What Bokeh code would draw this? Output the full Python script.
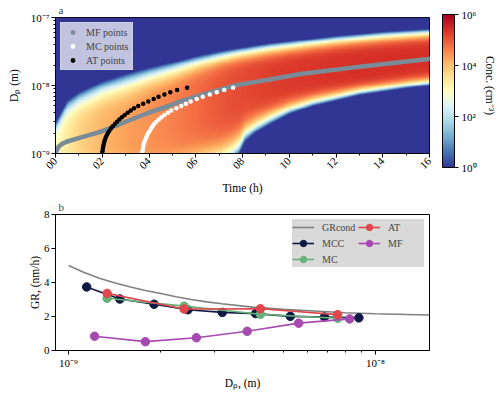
import math
import numpy as np
from bokeh.plotting import figure
from bokeh.models import (LinearColorMapper, FixedTicker, Legend, LegendItem, ColorBar,
                          LinearAxis, Range1d)
from bokeh.layouts import column
from bokeh.embed import file_html
from bokeh.resources import INLINE

FONT = "Liberation Serif"

# ---------------- data: panel a ----------------
# MF (mode fitting) trajectory, time (h) and diameter (m)
mf_time = [0.0, 0.03, 0.14, 0.29, 0.5, 1.21, 1.93, 2.64, 3.35, 4.06, 4.78, 5.35,
           6.35, 7.77, 9.2, 10.48, 13.12, 15.97, 16.0]
mf_dp = [1.00e-9, 1.08e-9, 1.27e-9, 1.39e-9, 1.50e-9, 1.77e-9, 2.09e-9, 2.61e-9,
         3.27e-9, 4.06e-9, 4.91e-9, 5.85e-9, 7.46e-9, 1.02e-8, 1.23e-8, 1.48e-8,
         1.91e-8, 2.46e-8, 2.48e-8]

# diameter bins (nm) used by the MC and AT methods
dp_bins_nm = [1.00, 1.08, 1.17, 1.26, 1.36, 1.47, 1.58, 1.71, 1.85, 2.00,
              2.15, 2.33, 2.51, 2.71, 2.93, 3.16, 3.41, 3.69, 3.98, 4.30,
              4.64, 5.01, 5.41, 5.84, 6.31, 6.81, 7.36, 7.94, 8.58, 9.26]
# appearance times (h) per bin
at_time = [2.00, 2.01, 2.025, 2.04, 2.06, 2.085, 2.11, 2.145, 2.19, 2.24,
           2.30, 2.37, 2.45, 2.54, 2.63, 2.73, 2.84, 2.96, 3.09, 3.22,
           3.36, 3.54, 3.75, 3.97, 4.20, 4.41, 4.66, 4.91, 5.20, 5.63]
mc_time = [3.71, 3.72, 3.74, 3.75, 3.77, 3.80, 3.84, 3.88, 3.92, 3.97,
           4.03, 4.09, 4.15, 4.22, 4.31, 4.42, 4.53, 4.66, 4.81, 4.95,
           5.17, 5.38, 5.58, 5.78, 6.04, 6.30, 6.60, 6.90, 7.22, 7.60]

# concentration field (log10 cm^-3) read along time: ridge, peak level, band edges (log10 m)
hm_time = [0, 0.5, 1, 2, 3, 4, 5, 6, 7, 7.5, 7.85, 8.1, 8.6, 9.2, 10, 11, 12, 13, 14, 15, 16]
hm_ridge = [-9.0, -8.95, -8.88, -8.8, -8.75, -8.55, -8.4, -8.25, -8.1, -8.04, -8.0,
            -7.975, -7.95, -7.91, -7.855, -7.81, -7.765, -7.725, -7.685, -7.645, -7.605]
hm_peak = [3.0, 3.4, 3.75, 4.1, 4.3, 4.45, 4.6, 4.8, 5.0, 5.08, 5.12,
           5.15, 5.2, 5.25, 5.3, 5.35, 5.38, 5.4, 5.4, 5.4, 5.4]
hm_upper = [-8.55, -8.22, -8.1, -7.94, -7.83, -7.74, -7.66, -7.57, -7.5, -7.47, -7.45,
            -7.44, -7.41, -7.38, -7.35, -7.31, -7.27, -7.24, -7.21, -7.19, -7.17]
hm_lower = [-9.5, -9.04, -9.10, -9.22, -9.36, -9.51, -9.44, -9.32, -9.22, -9.12, -9.0,
            -8.82, -8.68, -8.56, -8.42, -8.3, -8.22, -8.14, -8.09, -8.04, -8.0]

time_ticks = [0, 2, 4, 6, 8, 10, 12, 14, 16]
time_tick_labels = ["00", "02", "04", "06", "08", "10", "12", "14", "16"]
dp_ticks = [1e-9, 1e-8, 1e-7]
dp_tick_labels = ["10⁻⁹", "10⁻⁸", "10⁻⁷"]
conc_ticks_log = [0, 2, 4, 6]
conc_tick_labels = ["10⁰", "10²", "10⁴", "10⁶"]

# ---------------- data: panel b ----------------
grc_dp = [1.0e-9, 1.12e-9, 1.26e-9, 1.41e-9, 1.58e-9, 1.78e-9, 2.0e-9, 2.24e-9, 2.51e-9,
          2.82e-9, 3.16e-9, 3.98e-9, 5.01e-9, 6.31e-9, 7.94e-9, 1.0e-8, 1.26e-8, 1.5e-8]
grc_gr = [5.0, 4.6, 4.25, 3.98, 3.75, 3.53, 3.35, 3.16, 3.0,
          2.86, 2.75, 2.55, 2.42, 2.32, 2.22, 2.16, 2.12, 2.09]
mcc_dp = [1.146e-9, 1.47e-9, 1.90e-9, 2.45e-9, 3.17e-9, 4.07e-9, 5.28e-9, 6.82e-9, 8.83e-9]
mcc_gr = [3.74, 3.03, 2.72, 2.40, 2.24, 2.17, 2.01, 1.97, 1.92]
mc_dp = [1.336e-9, 2.38e-9, 4.22e-9, 7.53e-9]
mc_gr = [3.07, 2.61, 2.13, 1.90]
at_dp = [1.336e-9, 2.38e-9, 4.22e-9, 7.53e-9]
at_gr = [3.36, 2.44, 2.46, 2.11]
mfb_dp = [1.216e-9, 1.78e-9, 2.61e-9, 3.82e-9, 5.62e-9, 8.24e-9]
mfb_gr = [0.84, 0.52, 0.75, 1.13, 1.61, 1.86]
gr_ticks = [0, 2, 4, 6, 8]
dpb_ticks = [1e-9, 1e-8]
dpb_tick_labels = ["10⁻⁹", "10⁻⁸"]

# ---------------- palette (RdYlBu reversed) ----------------
anchors = ['#313695', '#4575b4', '#74add1', '#abd9e9', '#e0f3f8', '#ffffbf',
           '#fee090', '#fdae61', '#f46d43', '#d73027', '#a50026']
rgb = np.array([[int(h[i:i + 2], 16) for i in (1, 3, 5)] for h in anchors], float)
pos = np.linspace(0, 1, len(anchors))
q = np.linspace(0, 1, 256)
pal = ["#%02x%02x%02x" % tuple(int(round(np.interp(v, pos, rgb[:, k]))) for k in range(3)) for v in q]
mapper = LinearColorMapper(palette=pal, low=0, high=6)

# ---------------- build field ----------------
nx, ny = 748, 278
tc = (np.arange(nx) + 0.5) / nx * 16
yc = -9 + (np.arange(ny) + 0.5) / ny * 2
c = np.interp(tc, hm_time, hm_ridge)[None, :]
P = np.interp(tc, hm_time, hm_peak)[None, :]
U = np.interp(tc, hm_time, hm_upper)[None, :]
L = np.interp(tc, hm_time, hm_lower)[None, :]
X = yc[:, None]
u = np.where(X >= c, (X - c) / (U - c), (c - X) / (c - L))
lvl = P * (1 - np.clip(u, 0, None) ** 5)
lvl = np.clip(lvl, -1, 6)


def style_axis(ax, size="11px"):
    ax.axis_line_color = "black"
    ax.major_tick_line_color = "black"
    ax.minor_tick_line_color = "black"
    ax.major_tick_in = 0
    ax.major_tick_out = 4
    ax.minor_tick_in = 0
    ax.minor_tick_out = 2
    ax.major_label_text_font = FONT
    ax.major_label_text_font_size = size
    ax.major_label_text_color = "black"
    ax.axis_label_text_font = FONT
    ax.axis_label_text_font_size = "11.5px"
    ax.axis_label_text_font_style = "normal"
    ax.axis_label_text_color = "black"
    ax.major_label_standoff = 2
    ax.axis_label_standoff = 3


def style_title(fig):
    fig.title.text_font = FONT
    fig.title.text_font_size = "11px"
    fig.title.text_font_style = "normal"
    fig.title.align = "left"
    fig.title.offset = 3
    fig.title.standoff = 3


# ---------------- panel a ----------------
p1 = figure(width=500, height=197, x_range=(0, 16), y_range=(1e-9, 1e-7), y_axis_type="log",
            output_backend="svg", toolbar_location=None, title="a",
            min_border_left=55, min_border_right=71, min_border_top=15, min_border_bottom=43)
style_title(p1)
p1.image(image=[lvl], x=0, y=1e-9, dw=16, dh=1e-7 - 1e-9, color_mapper=mapper)
p1.grid.visible = False
p1.outline_line_color = "black"
p1.outline_line_alpha = 1
style_axis(p1.xaxis[0])
style_axis(p1.yaxis[0])
p1.xaxis.ticker = FixedTicker(ticks=time_ticks, minor_ticks=[1, 3, 5, 7, 9, 11, 13, 15])
p1.xaxis.major_label_overrides = dict(zip(time_ticks, time_tick_labels))
p1.xaxis.major_label_orientation = math.pi / 4
p1.xaxis.axis_label = "Time (h)"
p1.xaxis.axis_label_standoff = 7
p1.yaxis.ticker = FixedTicker(ticks=dp_ticks,
                              minor_ticks=[k * 1e-9 for k in range(2, 10)] + [k * 1e-8 for k in range(2, 10)])
p1.yaxis.major_label_overrides = dict(zip(dp_ticks, dp_tick_labels))
p1.yaxis.axis_label = "Dₚ (m)"
p1.yaxis.axis_label_standoff = 8

MF_GRAY = "#7a8c98"
r_mf_line = p1.line(mf_time, mf_dp, line_width=4.5, line_color=MF_GRAY)
r_mf = p1.scatter(mf_time, mf_dp, size=4.5, fill_color=MF_GRAY, line_color=None)
mc_dp_m = [d * 1e-9 for d in dp_bins_nm]
r_mc = p1.scatter(mc_time, mc_dp_m, size=4.5, fill_color="white", line_color=None)
r_at = p1.scatter(at_time, mc_dp_m, size=4.5, fill_color="black", line_color=None)

leg1 = Legend(items=[LegendItem(label="MF points", renderers=[r_mf]),
                     LegendItem(label="MC points", renderers=[r_mc]),
                     LegendItem(label="AT points", renderers=[r_at])],
              location="top_left")
leg1.margin = 5
leg1.padding = 3
leg1.spacing = 2
leg1.glyph_width = 17
leg1.glyph_height = 12
leg1.label_height = 12
leg1.label_standoff = 5
leg1.label_text_font = FONT
leg1.label_text_font_size = "10px"
leg1.background_fill_color = "white"
leg1.background_fill_alpha = 0.7
leg1.border_line_color = "#d0d2e6"
leg1.border_line_alpha = 0.8
p1.add_layout(leg1)

# colour bar (right panel)
cbar = ColorBar(color_mapper=mapper, width=12, height=153, location=(13, -14),
                padding=0, margin=0,
                ticker=FixedTicker(ticks=conc_ticks_log, minor_ticks=[]),
                major_label_overrides=dict(zip(conc_ticks_log, conc_tick_labels)),
                bar_line_color="black", bar_line_width=1,
                major_tick_line_color="black", major_tick_in=0, major_tick_out=4,
                minor_tick_line_color=None,
                major_label_text_font=FONT, major_label_text_font_size="11px",
                major_label_text_color="black", label_standoff=3,
                background_fill_alpha=0, border_line_color=None)
p1.add_layout(cbar, "right")
p1.extra_y_ranges = {"cb": Range1d(0, 1)}
cb_ax = LinearAxis(y_range_name="cb", ticker=FixedTicker(ticks=[]), axis_label="Conc. (cm⁻³)")
style_axis(cb_ax)
cb_ax.axis_line_color = None
cb_ax.major_tick_line_color = None
cb_ax.minor_tick_line_color = None
cb_ax.axis_label_standoff = 4
p1.add_layout(cb_ax, "right")

# ---------------- panel b ----------------
p2 = figure(width=500, height=196, x_range=(9.07e-10, 1.5e-8), y_range=(0, 8), x_axis_type="log",
            output_backend="svg", toolbar_location=None, title="b",
            min_border_left=55, min_border_right=71, min_border_top=14, min_border_bottom=43)
style_title(p2)
p2.grid.visible = False
p2.outline_line_color = "black"
style_axis(p2.xaxis[0])
style_axis(p2.yaxis[0])
p2.xaxis.ticker = FixedTicker(ticks=dpb_ticks, minor_ticks=[k * 1e-9 for k in range(2, 10)])
p2.xaxis.major_label_overrides = dict(zip(dpb_ticks, dpb_tick_labels))
p2.xaxis.axis_label = "Dₚ, (m)"
p2.xaxis.axis_label_standoff = 5
p2.yaxis.ticker = FixedTicker(ticks=gr_ticks, minor_ticks=[])
p2.yaxis.axis_label = "GR, (nm/h)"
p2.yaxis.axis_label_standoff = 0

r_grc = p2.line(grc_dp, grc_gr, line_color="#808080", line_width=1.6)
series = [("MCC", mcc_dp, mcc_gr, "#0c1a44"),
          ("MC", mc_dp, mc_gr, "#67b279"),
          ("AT", at_dp, at_gr, "#e0474c"),
          ("MF", mfb_dp, mfb_gr, "#a64ab0")]
items = [LegendItem(label="GRcond", renderers=[r_grc])]
for name, xs, ys, col in series:
    rl = p2.line(xs, ys, line_color=col, line_width=1.6)
    rs = p2.scatter(xs, ys, size=8.5, fill_color=col, line_color=col)
    items.append(LegendItem(label=name, renderers=[rl, rs]))

leg2 = Legend(items=items, location="top_right", ncols=2)
leg2.margin = 5
leg2.padding = 2
leg2.spacing = -1
leg2.glyph_width = 22
leg2.glyph_height = 16
leg2.label_height = 12
leg2.label_width = 36
leg2.label_standoff = 8
leg2.label_text_font = FONT
leg2.label_text_font_size = "10px"
leg2.background_fill_color = "#d9d9d9"
leg2.background_fill_alpha = 1
leg2.border_line_color = None
p2.add_layout(leg2)

layout = column(p1, p2)
open("out.html", "w").write(file_html(layout, INLINE))
